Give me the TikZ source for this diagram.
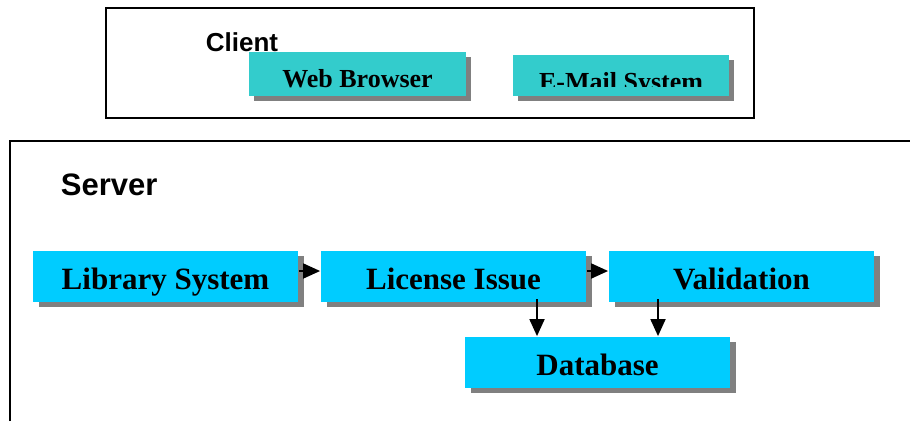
\documentclass[tikz,border=0pt]{standalone}
\usepackage{fontspec}
\setmainfont{Liberation Serif}
\setsansfont{Liberation Sans}
\usetikzlibrary{shadows,arrows.meta}
\definecolor{srvcyan}{HTML}{00CCFF}
\definecolor{clicyan}{HTML}{33CCCC}
\definecolor{shadegray}{HTML}{808080}
\tikzset{
	srvbox/.style   = {fill=srvcyan, inner sep=0pt, minimum width=265pt,
		minimum height=51pt, text height=26pt, text depth=0pt,
		font=\fontsize{31}{31}\selectfont\bfseries,
		drop shadow={shadow xshift=6pt, shadow yshift=-5pt, fill=shadegray, opacity=1}},
	clibox/.style   = {fill=clicyan, inner sep=0pt, minimum width=217pt,
		minimum height=44pt, text height=26pt, text depth=0pt,
		font=\fontsize{26}{26}\selectfont\bfseries,
		drop shadow={shadow xshift=5pt, shadow yshift=-5pt, fill=shadegray, opacity=1}},
	title/.style    = {anchor=base west, inner sep=0pt, font=\sffamily\bfseries}, % Client/Server
	frame/.style    = {line width=1.5pt} % outer boxes
}

\begin{document}
\begin{tikzpicture}[x=1pt, y=-1pt, >={Triangle[length=17pt,width=15pt]}, line width=1.8pt]
\useasboundingbox (0,0) rectangle (910,421);

% client part
\draw[frame] (106,8) rectangle (754,118);
\draw
node at (205,51) [title, font=\sffamily\bfseries\fontsize{26}{26}\selectfont] (client) {Client}
node at (357.5,74) [clibox] (web) {Web Browser}
node at (621,75.5) [clibox, minimum width=216pt, minimum height=41pt] (mail) {};
\begin{scope}
\clip (mail.north west) rectangle ([yshift=10pt]mail.south east);
\node at ([yshift=-1.5pt]mail.center) [inner sep=0pt, text height=26pt, text depth=0pt,
	font=\fontsize{26}{26}\selectfont\bfseries] (mailtxt) {E-Mail System};
\end{scope}

% server part
\draw[frame] (10,421) -- (10,141) -- (910,141);
\draw
node at (60,195) [title, font=\sffamily\bfseries\fontsize{31}{31}\selectfont] (server) {Server}
node at (165.5,276) [srvbox] (lib) {Library System}
node at (453.5,276) [srvbox] (lic) {License Issue}
node at (741.5,276) [srvbox] (val) {Validation}
node at (597.5,362.5) [srvbox] (db) {Database};

\coordinate (dbl) at ([xshift=-60.5pt]db.north);
\coordinate (dbr) at ([xshift=60.5pt]db.north);
\draw[->] ([yshift=5pt]lib.east) -- ([yshift=5pt]lic.west);
\draw[->] ([yshift=5pt]lic.east) -- ([yshift=5pt]val.west);
\draw[->] ([yshift=3pt]dbl |- lic.south) -- (dbl);
\draw[->] ([yshift=3pt]dbr |- val.south) -- (dbr);
\end{tikzpicture}
\end{document}
